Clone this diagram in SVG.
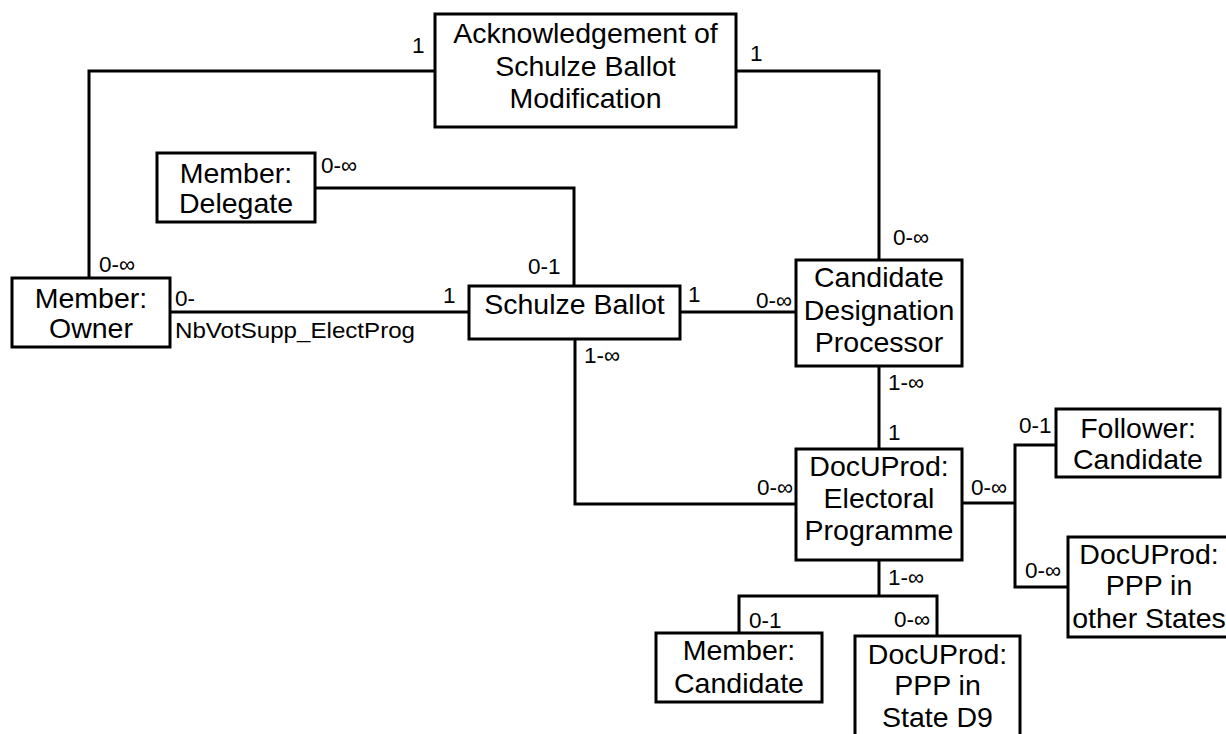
<svg xmlns="http://www.w3.org/2000/svg" width="1226" height="734" viewBox="0 0 1226 734">
<style>
  .box { fill: #fff; stroke: #000; stroke-width: 3; }
  .con { fill: none; stroke: #000; stroke-width: 3; }
  .nt { font-family: "Liberation Sans", Arial, sans-serif; font-size: 28.5px; text-anchor: middle; fill: #000; }
  .lb { font-family: "Liberation Sans", Arial, sans-serif; font-size: 22.5px; fill: #000; }
</style>
<rect x="0" y="0" width="1226" height="734" fill="#fff"/>
<g id="connectors">
  <path class="con" d="M435,71 H89 V278"/>
  <path class="con" d="M736,71 H879 V260"/>
  <path class="con" d="M315,188 H574 V286"/>
  <path class="con" d="M170,312 H469"/>
  <path class="con" d="M680,312 H796"/>
  <path class="con" d="M575,339 V504 H796"/>
  <path class="con" d="M879,366 V449"/>
  <path class="con" d="M879,560 V596"/>
  <path class="con" d="M739,633 V596 H937 V636"/>
  <path class="con" d="M962,503 H1015"/>
  <path class="con" d="M1056,445 H1015 V587 H1068"/>
</g>
<g id="labels">
  <text class="lb" x="412" y="53">1</text>
  <text class="lb" x="750" y="61">1</text>
  <text class="lb" x="321" y="173">0-∞</text>
  <text class="lb" x="528" y="274">0-1</text>
  <text class="lb" x="99" y="272">0-∞</text>
  <text class="lb" x="175" y="306">0-</text>
  <text class="lb" x="175" y="338" textLength="240" lengthAdjust="spacingAndGlyphs">NbVotSupp_ElectProg</text>
  <text class="lb" x="443" y="303">1</text>
  <text class="lb" x="688" y="302">1</text>
  <text class="lb" x="756" y="308">0-∞</text>
  <text class="lb" x="893" y="245">0-∞</text>
  <text class="lb" x="584" y="363">1-∞</text>
  <text class="lb" x="888" y="390">1-∞</text>
  <text class="lb" x="888" y="440">1</text>
  <text class="lb" x="757" y="495">0-∞</text>
  <text class="lb" x="971" y="495">0-∞</text>
  <text class="lb" x="1019" y="433">0-1</text>
  <text class="lb" x="1025" y="578">0-∞</text>
  <text class="lb" x="888" y="585">1-∞</text>
  <text class="lb" x="749" y="628">0-1</text>
  <text class="lb" x="894" y="627">0-∞</text>
</g>
<g id="ack">
  <rect class="box" x="435" y="14" width="301" height="113"/>
  <text class="nt" x="585.5" y="43">Acknowledgement of</text>
  <text class="nt" x="585.5" y="76">Schulze Ballot</text>
  <text class="nt" x="585.5" y="108">Modification</text>
</g>
<g id="delegate">
  <rect class="box" x="157" y="153" width="158" height="69"/>
  <text class="nt" x="236" y="183">Member:</text>
  <text class="nt" x="236" y="213">Delegate</text>
</g>
<g id="owner">
  <rect class="box" x="12" y="278" width="158" height="69"/>
  <text class="nt" x="91" y="308">Member:</text>
  <text class="nt" x="91" y="338">Owner</text>
</g>
<g id="schulze">
  <rect class="box" x="469" y="286" width="211" height="53"/>
  <text class="nt" x="574.5" y="314">Schulze Ballot</text>
</g>
<g id="cdp">
  <rect class="box" x="796" y="260" width="166" height="106"/>
  <text class="nt" x="879" y="287">Candidate</text>
  <text class="nt" x="879" y="320">Designation</text>
  <text class="nt" x="879" y="352">Processor</text>
</g>
<g id="electprog">
  <rect class="box" x="796" y="449" width="166" height="111"/>
  <text class="nt" x="879" y="476">DocUProd:</text>
  <text class="nt" x="879" y="508">Electoral</text>
  <text class="nt" x="879" y="540">Programme</text>
</g>
<g id="membercand">
  <rect class="box" x="656" y="633" width="166" height="69"/>
  <text class="nt" x="739" y="660">Member:</text>
  <text class="nt" x="739" y="693">Candidate</text>
</g>
<g id="pppd9">
  <rect class="box" x="855" y="636" width="165" height="110"/>
  <text class="nt" x="937.5" y="664">DocUProd:</text>
  <text class="nt" x="937.5" y="695">PPP in</text>
  <text class="nt" x="937.5" y="727">State D9</text>
</g>
<g id="follower">
  <rect class="box" x="1056" y="409" width="164" height="68"/>
  <text class="nt" x="1138" y="438">Follower:</text>
  <text class="nt" x="1138" y="469">Candidate</text>
</g>
<g id="pppother">
  <rect class="box" x="1068" y="537" width="160" height="100"/>
  <text class="nt" x="1149" y="564">DocUProd:</text>
  <text class="nt" x="1149" y="595">PPP in</text>
  <text class="nt" x="1149" y="628">other States</text>
</g>
</svg>
